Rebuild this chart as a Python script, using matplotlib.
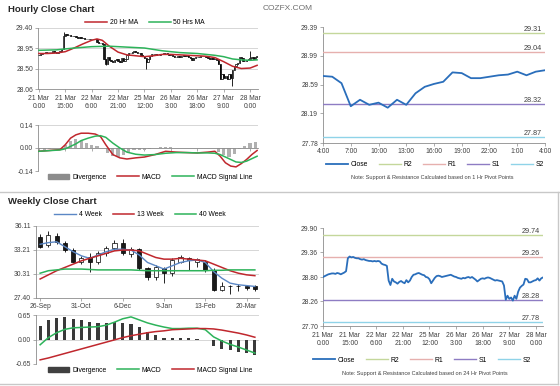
import matplotlib

matplotlib.use("Agg")
import matplotlib.pyplot as plt
from matplotlib.lines import Line2D
from matplotlib.patches import Patch

plt.rcParams["font.family"] = ["Liberation Sans", "DejaVu Sans"]

W, H = 560, 386

# hourly closes, 21 Mar 0:00 .. 28 Mar 4:00 (trading hours only)
hour_close = [
    28.80, 28.82, 28.84, 28.86, 28.87, 28.88, 28.88, 28.87, 28.89, 28.88,
    28.86, 28.88, 28.90, 28.93, 29.22, 29.26, 29.24, 29.25, 29.23, 29.22,
    29.22, 29.20, 29.19, 29.20, 29.18, 29.17, 29.16, 29.16, 29.15, 29.16,
    29.15, 29.16, 29.15, 29.10, 29.08, 29.07, 29.05, 28.72, 28.62, 28.76,
    28.70, 28.68, 28.65, 28.69, 28.71, 28.68, 28.66, 28.73, 28.68, 28.72,
    28.80, 28.85, 28.86, 28.88, 28.89, 28.87, 28.85, 28.84, 28.80, 28.79,
    28.75, 28.66, 28.72, 28.78, 28.82, 28.83, 28.82, 28.80, 28.81, 28.82,
    28.83, 28.84, 28.85, 28.83, 28.81, 28.80, 28.78, 28.77, 28.76, 28.78,
    28.77, 28.79, 28.80, 28.78, 28.80, 28.77, 28.74, 28.70, 28.73, 28.76,
    28.77, 28.76, 28.78, 28.79, 28.78, 28.76, 28.74, 28.72, 28.73, 28.72,
    28.71, 28.70, 28.61, 28.29, 28.38, 28.31, 28.34, 28.27, 28.38, 28.31,
    28.47, 28.56, 28.60, 28.63, 28.76, 28.75, 28.68, 28.68, 28.70, 28.72,
    28.73, 28.77, 28.72, 28.77, 28.79,
]
hour_tick_idx = [0, 15, 30, 45, 60, 75, 90, 105, 120]
hour_tick_labels = ["21 Mar\n0:00", "21 Mar\n15:00", "22 Mar\n6:00", "22 Mar\n21:00",
                    "25 Mar\n12:00", "26 Mar\n3:00", "26 Mar\n18:00", "27 Mar\n9:00",
                    "28 Mar\n0:00"]
wick_idx = [14, 38, 61, 110, 120]
wick_val = [29.31, 28.58, 28.50, 28.12, 28.90]

ma20_idx = [0, 5, 10, 15, 20, 25, 30, 33, 36, 40, 45, 50, 55, 60, 65, 70, 75, 80,
            85, 90, 95, 100, 105, 110, 115, 120, 124]
ma20 = [28.84, 28.84, 28.85, 28.88, 28.96, 29.05, 29.13, 29.16, 29.13, 29.00, 28.87,
        28.81, 28.79, 28.77, 28.79, 28.82, 28.82, 28.81, 28.80, 28.79, 28.78, 28.75,
        28.66, 28.56, 28.51, 28.52, 28.58]
ma50_idx = [0, 10, 20, 30, 40, 50, 60, 70, 80, 90, 100, 105, 110, 115, 120, 124]
ma50 = [28.91, 28.92, 28.96, 28.99, 29.00, 28.98, 28.96, 28.90, 28.86, 28.84, 28.80,
        28.77, 28.72, 28.70, 28.69, 28.70]

hmacd_idx = [0, 6, 12, 15, 18, 21, 24, 28, 32, 35, 38, 42, 46, 50, 55, 60, 66, 72,
             78, 84, 90, 96, 100, 103, 106, 109, 112, 115, 118, 121, 124]
hmacd = [-0.02, -0.015, -0.01, 0.02, 0.06, 0.08, 0.09, 0.09, 0.085, 0.07, 0.02, -0.04,
         -0.06, -0.067, -0.06, -0.055, -0.04, -0.02, -0.025, -0.028, -0.03, -0.025,
         -0.02, -0.05, -0.09, -0.11, -0.115, -0.095, -0.07, -0.04, -0.015]
hsignal = [-0.02, -0.016, -0.012, -0.005, 0.01, 0.025, 0.045, 0.06, 0.072, 0.075, 0.065,
           0.03, 0.0, -0.025, -0.038, -0.043, -0.04, -0.032, -0.028, -0.028, -0.03,
           -0.03, -0.032, -0.04, -0.055, -0.07, -0.085, -0.088, -0.08, -0.065, -0.05]
hdiv_idx = list(range(0, 124, 3))
hdiv = [-0.01, -0.01, -0.005, 0.0, 0.0, 0.02, 0.045, 0.055, 0.045, 0.03, 0.02, 0.012,
        0.0, -0.03, -0.05, -0.055, -0.04, -0.025, -0.015, -0.012, -0.01, -0.005, 0.003,
        0.005, 0.008, 0.005, 0.003, 0.002, 0.0, -0.003, 0.0, 0.0, 0.003, 0.0, -0.025,
        -0.045, -0.055, -0.035, -0.005, 0.015, 0.03, 0.035]

# last 24 hours chart
day_labels = ["4:00", "7:00", "10:00", "13:00", "16:00", "19:00", "22:00", "1:00", "4:00"]
pivot_names = ["R2", "R1", "S1", "S2"]
pivot_colors = ["#c4d79b", "#e6b0ae", "#8e7cc3", "#8fd3e8"]
pivot_1h = [29.31, 29.04, 28.32, 27.87]
pivot_24h = [29.74, 29.26, 28.28, 27.78]

# weekly
week_tick_idx = [0, 5, 10, 15, 20, 25]
week_labels = ["26-Sep", "31-Oct", "6-Dec", "9-Jan", "13-Feb", "20-Mar"]
w_open = [34.8, 33.8, 34.9, 34.0, 33.2, 31.7, 32.4, 31.8, 32.8, 33.5, 34.0, 32.7, 33.3,
          31.0, 29.9, 31.0, 30.4, 31.8, 32.2, 31.8, 31.8, 30.8, 28.4, 28.9, 28.85, 28.8, 28.8]
w_high = [35.2, 35.5, 35.3, 34.3, 33.5, 32.5, 32.8, 33.1, 33.7, 34.4, 34.5, 33.6, 33.5,
          31.2, 31.4, 31.2, 32.2, 32.6, 32.4, 32.2, 32.0, 31.0, 29.3, 29.0, 29.1, 29.0, 29.0]
w_low = [33.4, 33.6, 33.9, 33.0, 31.7, 31.5, 30.6, 31.5, 32.5, 33.2, 32.6, 32.4, 30.8,
         29.6, 29.6, 29.2, 30.1, 31.6, 30.8, 31.1, 30.6, 28.2, 28.2, 27.9, 28.2, 28.4, 28.2]
w_close = [33.6, 35.0, 34.2, 33.2, 31.8, 32.2, 31.8, 32.8, 33.5, 34.0, 32.8, 33.3, 31.0,
           30.0, 31.2, 30.4, 32.0, 32.3, 32.0, 32.1, 30.8, 28.4, 28.9, 28.85, 28.9, 28.6, 28.5]
ma4 = [33.9, 34.1, 34.2, 33.6, 33.0, 32.5, 32.2, 32.6, 33.0, 33.3, 33.3, 33.2, 32.6, 31.7,
       31.3, 30.9, 31.3, 31.7, 31.9, 32.0, 31.7, 30.6, 29.8, 29.2, 29.0, 28.9, 28.8]
ma13 = [29.7, 30.2, 30.7, 31.1, 31.5, 31.9, 32.2, 32.5, 32.8, 33.1, 33.2, 33.2, 33.1, 32.7,
        32.3, 32.1, 32.1, 32.2, 32.1, 32.0, 31.9, 31.5, 31.1, 30.7, 30.4, 30.2, 30.1]
ma40 = [30.4, 30.7, 30.8, 30.9, 30.9, 30.9, 30.85, 30.8, 30.8, 30.8, 30.8, 30.8, 30.75,
        30.7, 30.7, 30.7, 30.7, 30.7, 30.7, 30.7, 30.7, 30.75, 30.75, 30.8, 30.8, 30.8, 30.8]
wdiv = [0.36, 0.51, 0.57, 0.60, 0.54, 0.51, 0.46, 0.43, 0.45, 0.47, 0.45, 0.41, 0.32, 0.20,
        0.11, 0.03, 0.03, 0.03, 0.03, 0.02, -0.01, -0.16, -0.24, -0.28, -0.33, -0.37, -0.40]
wmacd = [-0.14, 0.05, 0.18, 0.27, 0.31, 0.32, 0.33, 0.34, 0.38, 0.46, 0.55, 0.60, 0.52, 0.44,
         0.38, 0.33, 0.29, 0.29, 0.30, 0.30, 0.26, 0.07, -0.04, -0.13, -0.20, -0.28, -0.36]
wsignal = [-0.54, -0.49, -0.43, -0.37, -0.31, -0.25, -0.19, -0.13, -0.07, -0.01, 0.05, 0.10,
           0.14, 0.18, 0.21, 0.23, 0.26, 0.27, 0.28, 0.29, 0.29, 0.28, 0.25, 0.21, 0.17,
           0.12, 0.06]

RED = "#c0272d"
GREEN = "#2db35a"
BLUE = "#2a6ebb"
WBLUE = "#5b87c5"
FS = 4.9

fig = plt.figure(figsize=(W / 100, H / 100), dpi=100)


def px_axes(x0, y0, x1, y1):
    return fig.add_axes([x0 / W, 1 - y1 / H, (x1 - x0) / W, (y1 - y0) / H])


def style(ax, yticks, ylabels):
    for s in ("top", "right"):
        ax.spines[s].set_visible(False)
    for s in ("left", "bottom"):
        ax.spines[s].set_color("#8c8c8c")
        ax.spines[s].set_linewidth(0.6)
    ax.set_yticks(yticks, labels=ylabels)
    ax.set_ylim(yticks[0], yticks[-1])
    ax.yaxis.grid(True, color="#d0d0d0", lw=0.6)
    ax.set_axisbelow(True)
    ax.tick_params(labelsize=FS, colors="#8c8c8c", labelcolor="#404040",
                   length=2, width=0.5, pad=1.5)


def candles(ax, o, h, l, c, width):
    for i in range(len(c)):
        ax.vlines(i, l[i], h[i], color="black", lw=0.6, zorder=2)
        up = c[i] >= o[i]
        ax.bar(i, c[i] - o[i], bottom=o[i], width=width,
               color="white" if up else "#1a1a1a", edgecolor="black", lw=0.5, zorder=3)


def legend(handles, labels, cx, cy, ncol):
    fig.legend(handles, labels, loc="center", bbox_to_anchor=(cx / W, 1 - cy / H),
               ncol=ncol, frameon=False, fontsize=FS, handlelength=3.2,
               handletextpad=0.4, columnspacing=1.6, borderpad=0)


def hline(y, x0=0, x1=W):
    fig.add_artist(Line2D([x0 / W, x1 / W], [1 - y / H, 1 - y / H],
                          transform=fig.transFigure, color="#c8c8c8", lw=1))


# titles
fig.text(8 / W, 1 - 10 / H, "Hourly Close Chart", fontsize=6.8, fontweight="bold",
         va="center", color="#262626")
fig.text(263 / W, 1 - 9 / H, "COZFX.COM", fontsize=6, va="center", color="#6f6f6f")
fig.text(8 / W, 1 - 202 / H, "Weekly Close Chart", fontsize=6.8, fontweight="bold",
         va="center", color="#262626")
hline(192)
hline(384, 0, 558)
fig.add_artist(Line2D([558 / W, 558 / W], [1 - 192 / H, 1 - 384 / H],
                      transform=fig.transFigure, color="#c8c8c8", lw=1))

# hourly candles
ax1 = px_axes(38, 28, 258, 89)
n = len(hour_close)
h_open = [hour_close[0]] + hour_close[:-1]
h_high = [max(a, b) for a, b in zip(h_open, hour_close)]
h_low = [min(a, b) for a, b in zip(h_open, hour_close)]
for i, v in zip(wick_idx, wick_val):
    h_high[i] = max(h_high[i], v)
    h_low[i] = min(h_low[i], v)
candles(ax1, h_open, h_high, h_low, hour_close, 0.75)
ax1.plot(ma20_idx, ma20, color=RED, lw=1.1, zorder=4)
ax1.plot(ma50_idx, ma50, color=GREEN, lw=1.1, zorder=4)
style(ax1, [28.06, 28.50, 28.95, 29.40], ["28.06", "28.50", "28.95", "29.40"])
ax1.set_xlim(-0.5, n - 0.5)
ax1.set_xticks(hour_tick_idx, labels=hour_tick_labels)
ax1.tick_params(axis="x", pad=2.5, labelsize=FS)
legend([Line2D([], [], color=RED, lw=1.1), Line2D([], [], color=GREEN, lw=1.1)],
       ["20 Hr MA", "50 Hrs MA"], 145, 23, 2)

# hourly macd
ax2 = px_axes(38, 125, 258, 171)
ax2.bar(hdiv_idx, hdiv, width=1.8, color="#b0b0b0", zorder=2)
ax2.plot(hmacd_idx, hmacd, color=RED, lw=1.1, zorder=3)
ax2.plot(hmacd_idx, hsignal, color=GREEN, lw=1.1, zorder=3)
style(ax2, [-0.14, 0.0, 0.14], ["-0.14", "0.00", "0.14"])
ax2.spines["bottom"].set_position(("data", 0))
ax2.set_xlim(-0.5, n - 0.5)
ax2.set_xticks(hour_tick_idx, labels=[])
legend([Patch(color="#8c8c8c"), Line2D([], [], color=RED, lw=1.1),
        Line2D([], [], color=GREEN, lw=1.1)],
       ["Divergence", "MACD", "MACD Signal Line"], 150, 177, 3)


def pivot_chart(ax, xs, ys, pivots, xmax):
    ax.plot(xs, ys, color=BLUE, lw=1.3, zorder=4)
    for v, col in zip(pivots, pivot_colors):
        ax.axhline(v, color=col, lw=1.0, zorder=3)
        ax.text(xmax * 0.985, v, f"{v:.2f}", ha="right", va="bottom", fontsize=FS + 0.3,
                color="#404040")
    ax.set_xlim(0, xmax)


# last 24 hours
ax3 = px_axes(323, 27, 545, 143)
day = hour_close[-25:]
pivot_chart(ax3, range(len(day)), day, pivot_1h, len(day) - 1)
style(ax3, [27.78, 28.19, 28.59, 28.99, 29.39], ["27.78", "28.19", "28.59", "28.99", "29.39"])
ax3.yaxis.grid(False)
ax3.set_xticks(range(0, 25, 3), labels=day_labels)
piv_handles = [Line2D([], [], color=BLUE, lw=1.3)] + \
    [Line2D([], [], color=c, lw=1.0) for c in pivot_colors]
legend(piv_handles, ["Close"] + pivot_names, 435, 165, 5)
fig.text(432 / W, 1 - 178 / H,
         "Note: Support & Resistance Calculated based on 1 Hr Pivot Points",
         fontsize=4.0, ha="center", va="center", color="#404040")

# full hourly line with 24 hr pivots
ax6 = px_axes(323, 228, 543, 326)
pivot_chart(ax6, range(n), hour_close, pivot_24h, n - 1)
style(ax6, [27.70, 28.26, 28.80, 29.36, 29.90], ["27.70", "28.26", "28.80", "29.36", "29.90"])
ax6.yaxis.grid(False)
ax6.set_xlim(0, n - 1)
ax6.set_xticks(hour_tick_idx, labels=hour_tick_labels)
ax6.tick_params(axis="x", pad=2.5)
legend(piv_handles, ["Close"] + pivot_names, 422, 360, 5)
fig.text(425 / W, 1 - 373 / H,
         "Note: Support & Resistance Calculated based on 24 Hr Pivot Points",
         fontsize=4.0, ha="center", va="center", color="#404040")

# weekly candles
ax4 = px_axes(36, 226, 259, 298)
nw = len(w_close)
candles(ax4, w_open, w_high, w_low, w_close, 0.5)
ax4.plot(range(nw), ma4, color=WBLUE, lw=1.0, zorder=4)
ax4.plot(range(nw), ma13, color=RED, lw=1.1, zorder=4)
ax4.plot(range(nw), ma40, color=GREEN, lw=1.1, zorder=4)
style(ax4, [27.40, 30.31, 33.21, 36.11], ["27.40", "30.31", "33.21", "36.11"])
ax4.set_xlim(-0.5, nw - 0.5)
ax4.set_xticks(week_tick_idx, labels=week_labels)
legend([Line2D([], [], color=WBLUE, lw=1.0), Line2D([], [], color=RED, lw=1.1),
        Line2D([], [], color=GREEN, lw=1.1)], ["4 Week", "13 Week", "40 Week"], 140, 215, 3)

# weekly macd
ax5 = px_axes(36, 315, 259, 364)
ax5.bar(range(nw), wdiv, width=0.38, color="#3a3a3a", zorder=2)
ax5.plot(range(nw), wmacd, color=GREEN, lw=1.1, zorder=3)
ax5.plot(range(nw), wsignal, color=RED, lw=1.1, zorder=3)
style(ax5, [-0.65, 0.0, 0.65], ["-0.65", "0.00", "0.65"])
ax5.spines["bottom"].set_visible(False)
ax5.set_xlim(-0.5, nw - 0.5)
ax5.set_xticks([])
legend([Patch(color="#404040"), Line2D([], [], color=GREEN, lw=1.1),
        Line2D([], [], color=RED, lw=1.1)],
       ["Divergence", "MACD", "MACD Signal Line"], 150, 370, 3)

fig.savefig("out.png", dpi=100)
